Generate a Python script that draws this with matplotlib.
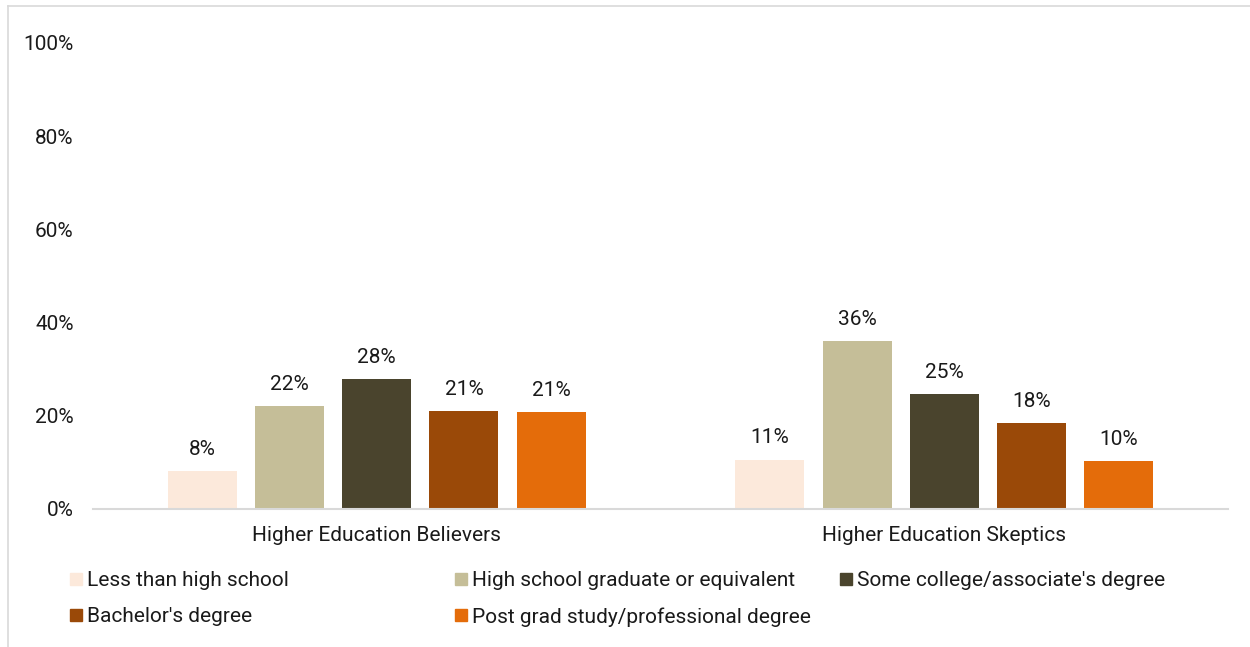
import matplotlib
matplotlib.use("Agg")
import matplotlib.pyplot as plt
from matplotlib.patches import Rectangle
from matplotlib.lines import Line2D
import numpy as np

plt.rcParams['font.family'] = ['Roboto', 'DejaVu Sans']

groups = ["Higher Education Believers", "Higher Education Skeptics"]
series = ["Less than high school",
          "High school graduate or equivalent",
          "Some college/associate's degree",
          "Bachelor's degree",
          "Post grad study/professional degree"]
values = {
    "Less than high school": [8.1, 10.6],
    "High school graduate or equivalent": [22.1, 36.0],
    "Some college/associate's degree": [27.9, 24.7],
    "Bachelor's degree": [21.0, 18.4],
    "Post grad study/professional degree": [20.8, 10.3],
}
colors = ["#FCE9DB", "#C5BE98", "#4A442D", "#9A4908", "#E46C0A"]
yticks = [0, 20, 40, 60, 80, 100]

FS = 15
TXT = "#1a1a1a"
W, H = 1250, 647
fig = plt.figure(figsize=(W / 100, H / 100), dpi=100)
ax = fig.add_axes([93 / W, 1 - 509 / H, (1228 - 93) / W, (509 - 43) / H])

step = 0.1537
bw = 0.1216
x = np.arange(len(groups))
for i, (name, c) in enumerate(zip(series, colors)):
    offs = (i - 2) * step
    bars = ax.bar(x + offs, values[name], width=bw, color=c, zorder=2)
    for b, v in zip(bars, values[name]):
        ax.text(b.get_x() + b.get_width() / 2, v + 2.6, f"{v:.0f}%",
                ha="center", va="bottom", fontsize=FS, color=TXT)

ax.set_xlim(-0.5, 1.5)
ax.set_ylim(0, 100)
ax.set_yticks(yticks)
ax.set_yticklabels([f"{t}%" for t in yticks], fontsize=FS, color=TXT)
ax.set_xticks(x)
ax.set_xticklabels(groups, fontsize=FS, color=TXT)
ax.tick_params(axis="both", length=0)
ax.tick_params(axis="y", pad=14)
ax.tick_params(axis="x", pad=12.5)
for s in ["top", "right", "left"]:
    ax.spines[s].set_visible(False)
ax.spines["bottom"].set_color("#D9D9D9")
ax.spines["bottom"].set_linewidth(1.5)

# legend laid out in equal-width columns, two rows
col_x = [70, 455, 840]
row_y = [579, 615]
order = [(0, 0), (0, 1), (0, 2), (1, 0), (1, 1)]
for (r, cidx), name, c in zip(order, series, colors):
    px, py = col_x[cidx], row_y[r]
    fig.patches.append(Rectangle((px / W, 1 - (py + 6) / H), 12 / W, 12 / H,
                                 transform=fig.transFigure, color=c))
    fig.text((px + 17) / W, 1 - (py + 2) / H, name, ha="left", va="center",
             fontsize=FS, color=TXT)

# outer frame (top and left edges)
fig.lines.append(Line2D([8 / W, 1], [1 - 6 / H, 1 - 6 / H], transform=fig.transFigure,
                        color="#D9D9D9", lw=1.2))
fig.lines.append(Line2D([8 / W, 8 / W], [0, 1 - 6 / H], transform=fig.transFigure,
                        color="#D9D9D9", lw=1.2))

fig.savefig("out.png", dpi=100)
